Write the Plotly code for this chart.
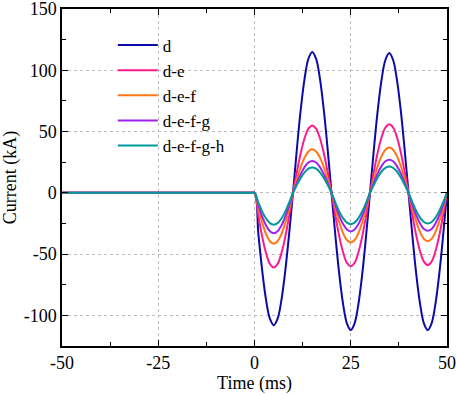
import plotly.graph_objects as go

# Time axis (ms): flat pre-fault samples, then 1 ms samples from 0 to 50
time_ms = [-50, -25, -2, -1] + list(range(0, 51))

series_names = ["d", "d-e", "d-e-f", "d-e-f-g", "d-e-f-g-h"]

pre = [0, 0, 0, 0]

d = pre + [0,
     -33.4, -63.5, -87.4, -102.7, -108, -102.7, -87.4, -63.5, -33.4, 0,
     35.5, 67.6, 93.0, 109.4, 115, 109.4, 93.0, 67.6, 35.5, 0,
     -34.6, -65.9, -90.6, -106.5, -112, -106.5, -90.6, -65.9, -34.6, 0,
     35.2, 67.0, 92.2, 108.4, 114, 108.4, 92.2, 67.0, 35.2, 0,
     -34.6, -65.9, -90.6, -106.5, -112, -106.5, -90.6, -65.9, -34.6, 0]

d_e = pre + [0,
       -18.8, -35.9, -49.3, -58.0, -61, -58.0, -49.3, -35.9, -18.8, 0,
       17.0, 32.3, 44.5, 52.3, 55, 52.3, 44.5, 32.3, 17.0, 0,
       -18.5, -35.3, -48.5, -57.1, -60, -57.1, -48.5, -35.3, -18.5, 0,
       17.3, 32.9, 45.3, 53.3, 56, 53.3, 45.3, 32.9, 17.3, 0,
       -18.2, -34.7, -47.7, -56.1, -59, -56.1, -47.7, -34.7, -18.2, 0]

d_e_f = pre + [0,
         -12.8, -24.4, -33.6, -39.5, -41.5, -39.5, -33.6, -24.4, -12.8, 0,
         11.0, 20.9, 28.7, 33.8, 35.5, 33.8, 28.7, 20.9, 11.0, 0,
         -12.5, -23.8, -32.8, -38.5, -40.5, -38.5, -32.8, -23.8, -12.5, 0,
         11.4, 21.8, 29.9, 35.2, 37, 35.2, 29.9, 21.8, 11.4, 0,
         -12.2, -23.2, -32.0, -37.6, -39.5, -37.6, -32.0, -23.2, -12.2, 0]

d_e_f_g = pre + [0,
           -10.2, -19.4, -26.7, -31.4, -33, -31.4, -26.7, -19.4, -10.2, 0,
           8.0, 15.3, 21.0, 24.7, 26, 24.7, 21.0, 15.3, 8.0, 0,
           -9.7, -18.5, -25.5, -30.0, -31.5, -30.0, -25.5, -18.5, -9.7, 0,
           8.3, 15.9, 21.8, 25.7, 27, 25.7, 21.8, 15.9, 8.3, 0,
           -9.6, -18.2, -25.1, -29.5, -31, -29.5, -25.1, -18.2, -9.6, 0]

d_e_f_g_h = pre + [0,
             -8.0, -15.3, -21.0, -24.7, -26, -24.7, -21.0, -15.3, -8.0, 0,
             6.4, 12.2, 16.7, 19.7, 20.7, 19.7, 16.7, 12.2, 6.4, 0,
             -7.9, -15.1, -20.7, -24.3, -25.6, -24.3, -20.7, -15.1, -7.9, 0,
             6.6, 12.6, 17.4, 20.4, 21.5, 20.4, 17.4, 12.6, 6.6, 0,
             -7.7, -14.7, -20.2, -23.8, -25, -23.8, -20.2, -14.7, -7.7, 0]

series_values = [d, d_e, d_e_f, d_e_f_g, d_e_f_g_h]
colors = ["#0a0aa8", "#ff1a8c", "#ff7814", "#a020f0", "#00999a"]

x_ticks = [-50, -25, 0, 25, 50]
y_ticks = [-100, -50, 0, 50, 100, 150]

FONT = "Liberation Serif, DejaVu Serif, serif"
FS = 18

fig = go.Figure()
for name, vals, col in zip(series_names, series_values, colors):
    fig.add_trace(go.Scatter(x=time_ms, y=vals, mode="lines", name=name,
                             line=dict(color=col, width=2, shape="spline", smoothing=1)))

axis_common = dict(
    showline=True, linecolor="black", linewidth=1.5, mirror="ticks",
    ticks="inside", ticklen=6, tickwidth=1.2, tickcolor="black",
    showgrid=True, gridcolor="#bdbdbd", griddash="dot", gridwidth=1,
    zeroline=False, automargin=False, ticklabeloverflow="allow",
    tickfont=dict(family=FONT, size=FS, color="black"),
)

fig.update_xaxes(range=[-50, 50], tickvals=x_ticks, ticktext=[str(v) for v in x_ticks],
                 minor=dict(tickvals=[-37.5, -12.5, 12.5, 37.5], ticks="inside", ticklen=4,
                            tickcolor="black", showgrid=False),
                 title=dict(text="Time (ms)", font=dict(family=FONT, size=FS, color="black"),
                            standoff=2),
                 **axis_common)
fig.update_yaxes(range=[-125, 150], tickvals=y_ticks, ticktext=[str(v) for v in y_ticks],
                 minor=dict(tickvals=[-125, -75, -25, 25, 75, 125], ticks="inside", ticklen=4,
                            tickcolor="black", showgrid=False),
                 title=dict(text="Current (kA)", font=dict(family=FONT, size=FS, color="black"),
                            standoff=4),
                 **axis_common)

fig.update_layout(
    width=457, height=395,
    margin=dict(l=62, r=10, t=9, b=49),
    paper_bgcolor="white", plot_bgcolor="white",
    font=dict(family=FONT, size=FS, color="black"),
    legend=dict(x=0.132, y=0.945, xanchor="left", yanchor="top",
                bgcolor="rgba(0,0,0,0)", borderwidth=0,
                font=dict(family=FONT, size=17, color="black"),
                itemwidth=40),
    showlegend=True,
)

fig.write_html("out.html", config={"displayModeBar": False},
               post_script="document.body.style.margin='0px';document.body.style.overflow='hidden';")
